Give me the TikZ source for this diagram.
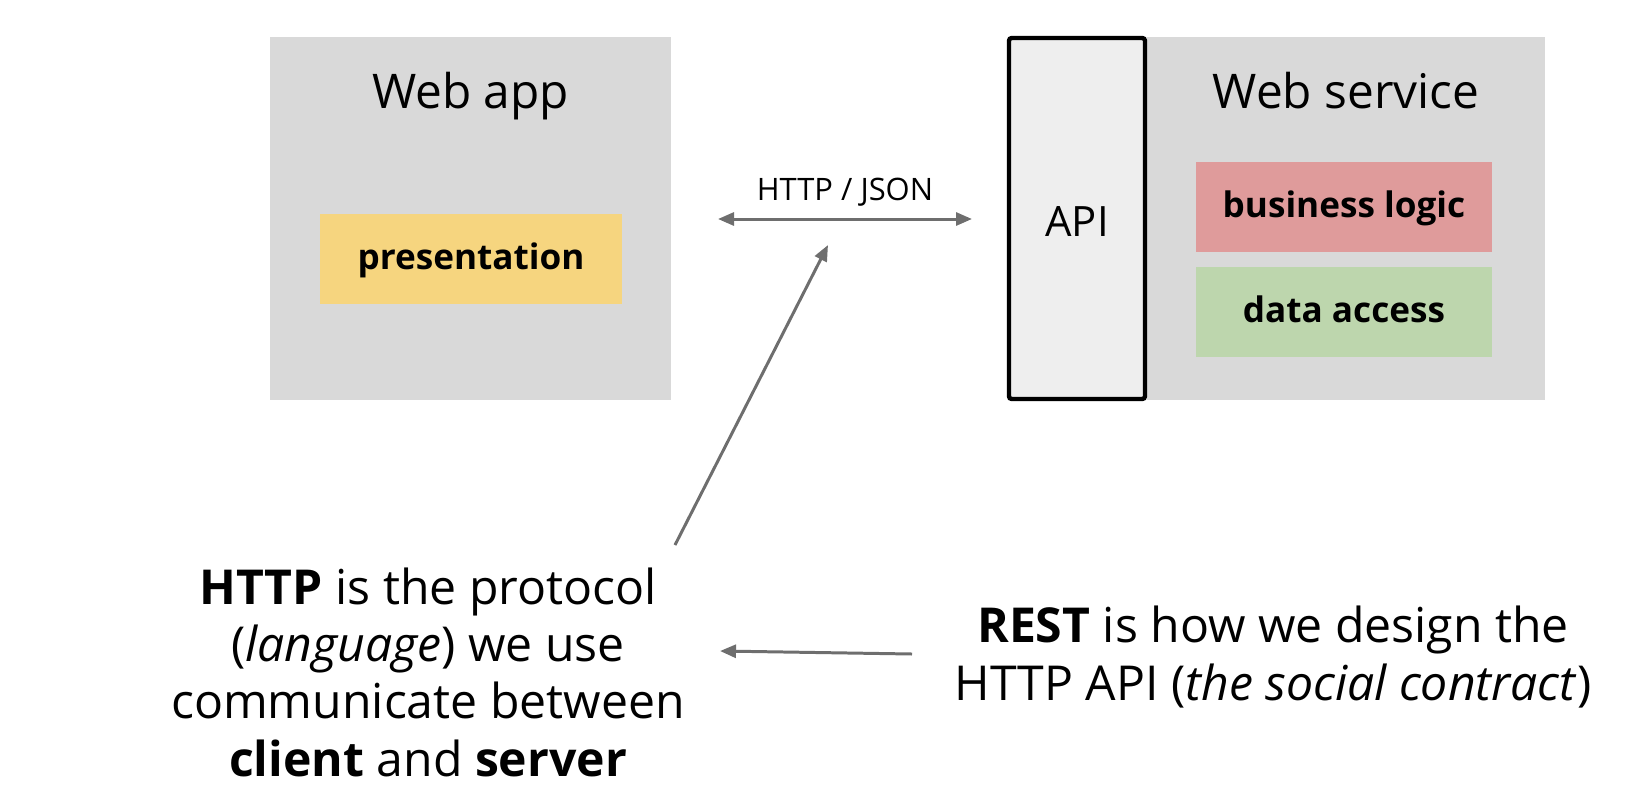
\documentclass[tikz,border=0pt]{standalone}
\usepackage{fontspec}
\setmainfont{Open Sans}
\usepackage{xcolor}
\usetikzlibrary{arrows.meta}

\definecolor{boxgray}{HTML}{D9D9D9}
\definecolor{apigray}{HTML}{EEEEEE}
\definecolor{layeryellow}{HTML}{F6D57F}
\definecolor{layerred}{HTML}{DF9B9B}
\definecolor{layergreen}{HTML}{BDD6AD}
\definecolor{linkgray}{HTML}{6E6E6E}

\tikzset{
	container/.style={fill=boxgray, inner sep=0pt},
	layer/.style={inner sep=0pt, minimum width=5.92cm, minimum height=1.8cm,
		text height=16pt, text depth=3.5pt, font=\fontsize{20}{24}\selectfont\bfseries},
	title/.style={inner sep=0pt, font=\fontsize{27.2}{32}\selectfont},
	note/.style={inner sep=0pt, align=center, font=\fontsize{27.4}{32.6}\selectfont},
	link/.style={draw=linkgray, line width=1.7pt, -{Triangle[length=0.32cm,width=0.26cm]}}
}

\begin{document}
\begin{tikzpicture}[x=0.02cm,y=-0.02cm]
		%frame
		\useasboundingbox (0,0) rectangle (1634,806);
		
		%web app
		\node[container, minimum width=8.02cm, minimum height=7.26cm] (webapp) at (470.5,218.5) {};
		\node[title, anchor=base] (webapptitle) at (470.5,108) {Web app};
		\node[layer, fill=layeryellow, minimum width=6.04cm] (presentation) at (471,259) {presentation};
		
		%web service
		\node[container, minimum width=7.96cm, minimum height=7.26cm] (webservice) at (1346,218.5) {};
		\node[title, anchor=base] (webservicetitle) at (1346,108) {Web service};
		\node[layer, fill=layerred] (logic) at (1344,207) {business logic};
		\node[layer, fill=layergreen] (access) at (1344,312) {data access};
		
		%api
		\node[draw=black, fill=apigray, line width=2.5pt, rounded corners=1.5pt, inner sep=0pt,
			minimum width=2.72cm, minimum height=7.22cm] (api) at (1077,218.5) {};
		\node[inner sep=0pt, anchor=base, font=\fontsize{23.8}{28}\selectfont] (apilabel) at (1077,236) {API};
		
		%http / json
		\node[inner sep=0pt, anchor=base, font=\fontsize{17.6}{21}\selectfont] (wire) at (845,200) {HTTP / JSON};
		\coordinate (wireleft) at (718,219);
		\coordinate (wireright) at (972,219);
		\draw[link, {Triangle[length=0.32cm,width=0.26cm]}-{Triangle[length=0.32cm,width=0.26cm]}] (wireleft) -- (wireright);
		
		%notes
		\node[note, anchor=base] (httpnote) at (428,776) {\textbf{HTTP} is the protocol\\(\textit{language}) we use\\communicate between\\\textbf{client} and \textbf{server}};
		\node[note, anchor=base] (restnote) at (1273,700) {\textbf{REST} is how we design the\\HTTP API (\textit{the social contract})};
		
		%pointers
		\coordinate (httptail) at (675,545);
		\coordinate (httptip) at (828,245);
		\draw[link] (httptail) -- (httptip);
		\coordinate (resttail) at (912,654);
		\coordinate (resttip) at (720,651);
		\draw[link] (resttail) -- (resttip);
	\end{tikzpicture}
\end{document}
